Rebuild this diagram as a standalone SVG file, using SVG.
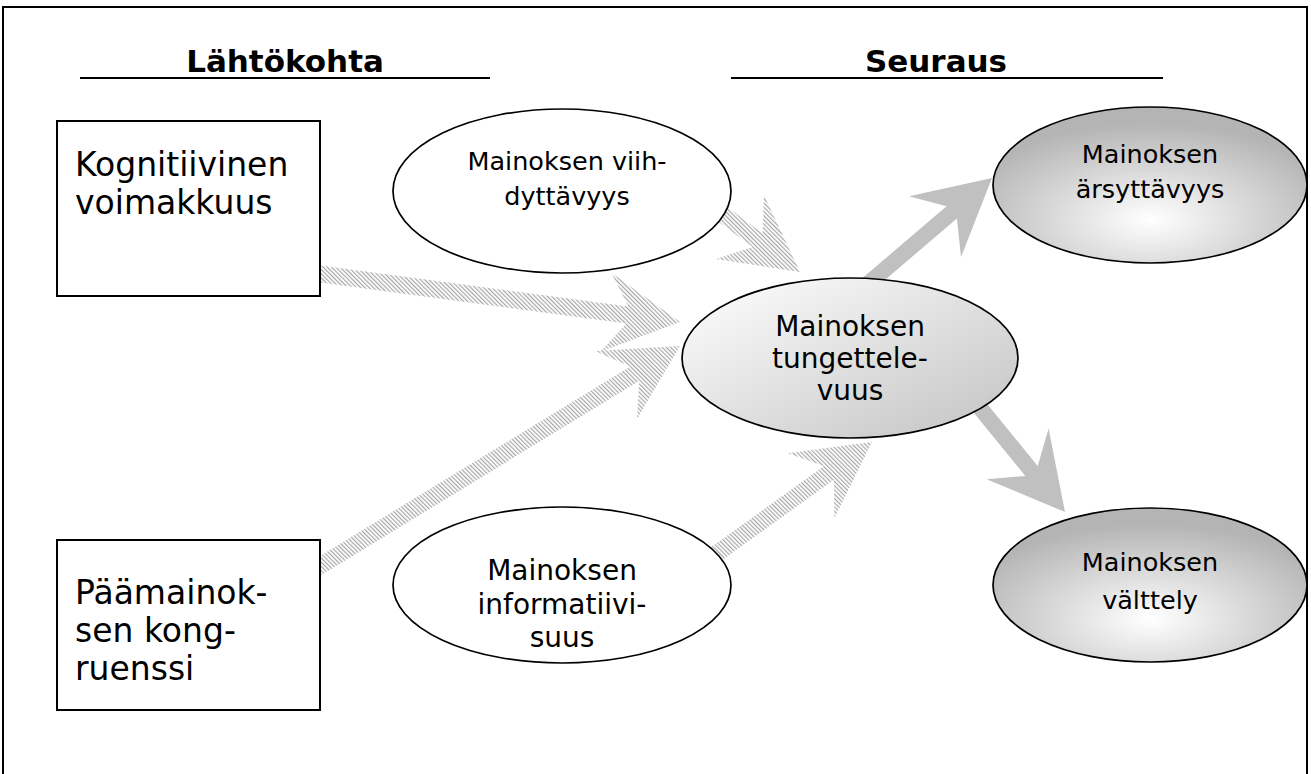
<svg xmlns="http://www.w3.org/2000/svg" width="1311" height="774" viewBox="0 0 1311 774">
  <defs>
    <pattern id="hatch" width="3" height="3" patternUnits="userSpaceOnUse" patternTransform="rotate(-45)">
      <rect width="1.2" height="3" fill="#a6a6a6"/>
    </pattern>
    <linearGradient id="gradCenter" x1="0" y1="0" x2="1" y2="1">
      <stop offset="0" stop-color="#ffffff"/>
      <stop offset="1" stop-color="#c2c2c2"/>
    </linearGradient>
    <radialGradient id="gradOutcome" cx="0.5" cy="0.72" r="0.62">
      <stop offset="0" stop-color="#ffffff"/>
      <stop offset="1" stop-color="#b4b4b4"/>
    </radialGradient>
  </defs>
  <style>
    text { font-family: "DejaVu Sans", Verdana, sans-serif; fill: #000; }
    .head { font-size: 31px; font-weight: bold; text-anchor: middle; }
    .box-label { font-size: 33px; }
    .ell-label { font-size: 25.5px; text-anchor: middle; }
    .ell-label-lg { font-size: 28px; text-anchor: middle; }
    .rule { stroke: #000; stroke-width: 2; }
    .box { fill: #fff; stroke: #000; stroke-width: 2; }
    .ell { stroke: #000; stroke-width: 1.7; }
    .hatched { fill: url(#hatch); }
    .solid { fill: #c0c0c0; }
  </style>

  <!-- outer frame -->
  <rect x="3" y="7" width="1304" height="790" fill="#fff" stroke="#000" stroke-width="2"/>

  <!-- column headings -->
  <g id="heading-left">
    <text class="head" x="285" y="72">Lähtökohta</text>
    <line class="rule" x1="80" y1="78" x2="490" y2="78"/>
  </g>
  <g id="heading-right">
    <text class="head" x="936" y="72">Seuraus</text>
    <line class="rule" x1="731" y1="78" x2="1163" y2="78"/>
  </g>

  <!-- connectors: hatched inputs, solid outputs -->
  <g id="connectors">
    <path class="hatched" d="M680,322 L611,272.4 L628.6,306.6 L311.1,264.3 L308.9,281.1 L626.4,323.4 L600.4,351.7 Z"/>
    <path class="hatched" d="M680,346 L595.1,351 L630.3,366.4 L307,564 L315.8,578.6 L639.2,380.9 L636.9,419.2 Z"/>
    <path class="hatched" d="M800,272 L763.9,195 L762.7,233.4 L701,187.3 L690.8,200.9 L752.5,247.1 L716,259.1 Z"/>
    <path class="hatched" d="M872,442 L787.8,453.3 L824,466 L692.4,560.6 L702.4,574.4 L833.9,479.8 L834.4,518.2 Z"/>
    <path class="solid" d="M992,178 L909,196.3 L946.5,206.3 L857.5,282.3 L867.9,294.5 L956.9,218.5 L961,257.1 Z"/>
    <path class="solid" d="M1065,512 L1048.6,428.6 L1037.7,465.9 L968.8,381.4 L956.4,391.6 L1025.3,476 L986.6,479.2 Z"/>
  </g>

  <!-- antecedents -->
  <g id="node-kognitiivinen">
    <rect class="box" x="57" y="121" width="263" height="175"/>
    <text class="box-label" x="75" y="176">Kognitiivinen</text>
    <text class="box-label" x="75" y="214">voimakkuus</text>
  </g>
  <g id="node-kongruenssi">
    <rect class="box" x="57" y="540" width="263" height="170"/>
    <text class="box-label" x="75" y="604">Päämainok-</text>
    <text class="box-label" x="75" y="642">sen kong-</text>
    <text class="box-label" x="75" y="680">ruenssi</text>
  </g>

  <!-- moderators -->
  <g id="node-viihdyttavyys">
    <ellipse class="ell" cx="562" cy="191" rx="169" ry="82" fill="#fff"/>
    <text class="ell-label" x="567" y="170">Mainoksen viih-</text>
    <text class="ell-label" x="567" y="205">dyttävyys</text>
  </g>
  <g id="node-informatiivisuus">
    <ellipse class="ell" cx="562" cy="585" rx="169" ry="78" fill="#fff"/>
    <text class="ell-label-lg" x="562" y="580">Mainoksen</text>
    <text class="ell-label-lg" x="562" y="614">informatiivi-</text>
    <text class="ell-label-lg" x="562" y="647">suus</text>
  </g>

  <!-- central construct -->
  <g id="node-tungettelevuus">
    <ellipse class="ell" cx="850" cy="358" rx="168" ry="80" fill="url(#gradCenter)"/>
    <text class="ell-label-lg" x="850" y="336">Mainoksen</text>
    <text class="ell-label-lg" x="850" y="368">tungettele-</text>
    <text class="ell-label-lg" x="850" y="400">vuus</text>
  </g>

  <!-- outcomes -->
  <g id="node-arsyttavyys">
    <ellipse class="ell" cx="1150" cy="185" rx="157" ry="78" fill="url(#gradOutcome)"/>
    <text class="ell-label" x="1150" y="163">Mainoksen</text>
    <text class="ell-label" x="1150" y="198">ärsyttävyys</text>
  </g>
  <g id="node-valttely">
    <ellipse class="ell" cx="1150" cy="585" rx="157" ry="77" fill="url(#gradOutcome)"/>
    <text class="ell-label" x="1150" y="571">Mainoksen</text>
    <text class="ell-label" x="1150" y="609">välttely</text>
  </g>
</svg>
